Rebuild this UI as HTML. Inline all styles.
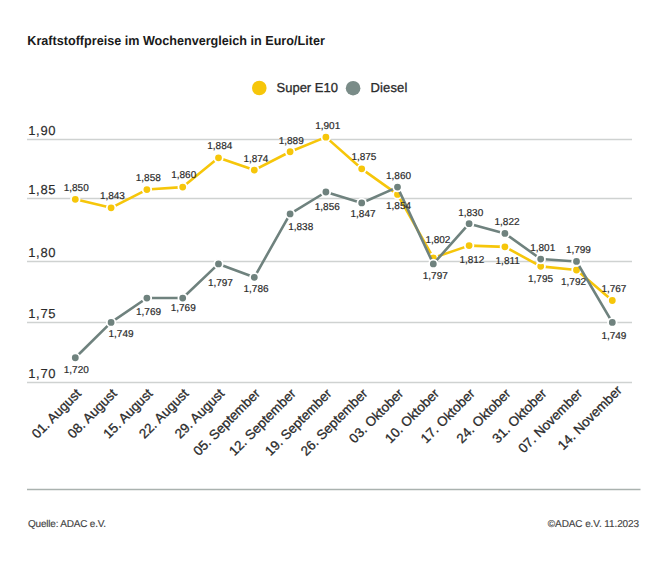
<!DOCTYPE html>
<html><head><meta charset="utf-8"><style>
html,body{margin:0;padding:0;background:#fff;width:668px;height:585px;overflow:hidden;}
svg text{font-family:"Liberation Sans",sans-serif;text-rendering:geometricPrecision;}
</style></head><body>
<svg width="668" height="585" viewBox="0 0 668 585" style="position:absolute;left:0;top:0">
<line x1="27" y1="139.5" x2="632" y2="139.5" stroke="#cfd2d1" stroke-width="1.3"/>
<line x1="27" y1="198.5" x2="632" y2="198.5" stroke="#cfd2d1" stroke-width="1.3"/>
<line x1="27" y1="261.5" x2="632" y2="261.5" stroke="#cfd2d1" stroke-width="1.3"/>
<line x1="27" y1="322.5" x2="632" y2="322.5" stroke="#cfd2d1" stroke-width="1.3"/>
<line x1="27" y1="382.5" x2="632" y2="382.5" stroke="#cfd2d1" stroke-width="1.3"/>
<text x="28.2" y="135.2" font-size="13" letter-spacing="0.7" fill="#2b2b2b" stroke="#2b2b2b" stroke-width="0.15">1,90</text>
<text x="28.2" y="194.2" font-size="13" letter-spacing="0.7" fill="#2b2b2b" stroke="#2b2b2b" stroke-width="0.15">1,85</text>
<text x="28.2" y="257.2" font-size="13" letter-spacing="0.7" fill="#2b2b2b" stroke="#2b2b2b" stroke-width="0.15">1,80</text>
<text x="28.2" y="318.2" font-size="13" letter-spacing="0.7" fill="#2b2b2b" stroke="#2b2b2b" stroke-width="0.15">1,75</text>
<text x="28.2" y="378.2" font-size="13" letter-spacing="0.7" fill="#2b2b2b" stroke="#2b2b2b" stroke-width="0.15">1,70</text>
<polyline points="75.30,199.30 111.10,207.83 146.90,189.55 182.70,187.11 218.50,157.85 254.30,170.04 290.10,151.76 325.90,137.13 361.70,168.83 397.50,194.42 433.30,257.81 469.10,245.62 504.90,246.84 540.70,266.35 576.50,270.00 612.30,300.48" fill="none" stroke="#f6c60a" stroke-width="2.6" stroke-linejoin="round"/>
<circle cx="75.30" cy="199.30" r="4.3" fill="#f6c60a" stroke="#fff" stroke-width="1.8"/>
<circle cx="111.10" cy="207.83" r="4.3" fill="#f6c60a" stroke="#fff" stroke-width="1.8"/>
<circle cx="146.90" cy="189.55" r="4.3" fill="#f6c60a" stroke="#fff" stroke-width="1.8"/>
<circle cx="182.70" cy="187.11" r="4.3" fill="#f6c60a" stroke="#fff" stroke-width="1.8"/>
<circle cx="218.50" cy="157.85" r="4.3" fill="#f6c60a" stroke="#fff" stroke-width="1.8"/>
<circle cx="254.30" cy="170.04" r="4.3" fill="#f6c60a" stroke="#fff" stroke-width="1.8"/>
<circle cx="290.10" cy="151.76" r="4.3" fill="#f6c60a" stroke="#fff" stroke-width="1.8"/>
<circle cx="325.90" cy="137.13" r="4.3" fill="#f6c60a" stroke="#fff" stroke-width="1.8"/>
<circle cx="361.70" cy="168.83" r="4.3" fill="#f6c60a" stroke="#fff" stroke-width="1.8"/>
<circle cx="397.50" cy="194.42" r="4.3" fill="#f6c60a" stroke="#fff" stroke-width="1.8"/>
<circle cx="433.30" cy="257.81" r="4.3" fill="#f6c60a" stroke="#fff" stroke-width="1.8"/>
<circle cx="469.10" cy="245.62" r="4.3" fill="#f6c60a" stroke="#fff" stroke-width="1.8"/>
<circle cx="504.90" cy="246.84" r="4.3" fill="#f6c60a" stroke="#fff" stroke-width="1.8"/>
<circle cx="540.70" cy="266.35" r="4.3" fill="#f6c60a" stroke="#fff" stroke-width="1.8"/>
<circle cx="576.50" cy="270.00" r="4.3" fill="#f6c60a" stroke="#fff" stroke-width="1.8"/>
<circle cx="612.30" cy="300.48" r="4.3" fill="#f6c60a" stroke="#fff" stroke-width="1.8"/>
<polyline points="75.30,357.77 111.10,322.42 146.90,298.04 182.70,298.04 218.50,263.91 254.30,277.32 290.10,213.93 325.90,191.99 361.70,202.96 397.50,187.11 433.30,263.91 469.10,223.68 504.90,233.43 540.70,259.03 576.50,261.47 612.30,322.42" fill="none" stroke="#6f827e" stroke-width="2.6" stroke-linejoin="round"/>
<circle cx="75.30" cy="357.77" r="4.3" fill="#6f827e" stroke="#fff" stroke-width="1.8"/>
<circle cx="111.10" cy="322.42" r="4.3" fill="#6f827e" stroke="#fff" stroke-width="1.8"/>
<circle cx="146.90" cy="298.04" r="4.3" fill="#6f827e" stroke="#fff" stroke-width="1.8"/>
<circle cx="182.70" cy="298.04" r="4.3" fill="#6f827e" stroke="#fff" stroke-width="1.8"/>
<circle cx="218.50" cy="263.91" r="4.3" fill="#6f827e" stroke="#fff" stroke-width="1.8"/>
<circle cx="254.30" cy="277.32" r="4.3" fill="#6f827e" stroke="#fff" stroke-width="1.8"/>
<circle cx="290.10" cy="213.93" r="4.3" fill="#6f827e" stroke="#fff" stroke-width="1.8"/>
<circle cx="325.90" cy="191.99" r="4.3" fill="#6f827e" stroke="#fff" stroke-width="1.8"/>
<circle cx="361.70" cy="202.96" r="4.3" fill="#6f827e" stroke="#fff" stroke-width="1.8"/>
<circle cx="397.50" cy="187.11" r="4.3" fill="#6f827e" stroke="#fff" stroke-width="1.8"/>
<circle cx="433.30" cy="263.91" r="4.3" fill="#6f827e" stroke="#fff" stroke-width="1.8"/>
<circle cx="469.10" cy="223.68" r="4.3" fill="#6f827e" stroke="#fff" stroke-width="1.8"/>
<circle cx="504.90" cy="233.43" r="4.3" fill="#6f827e" stroke="#fff" stroke-width="1.8"/>
<circle cx="540.70" cy="259.03" r="4.3" fill="#6f827e" stroke="#fff" stroke-width="1.8"/>
<circle cx="576.50" cy="261.47" r="4.3" fill="#6f827e" stroke="#fff" stroke-width="1.8"/>
<circle cx="612.30" cy="322.42" r="4.3" fill="#6f827e" stroke="#fff" stroke-width="1.8"/>
<text x="76.20" y="190.90" font-size="10.0" fill="#2b2b2b" stroke="#2b2b2b" stroke-width="0.2" text-anchor="middle">1,850</text>
<text x="112.40" y="199.30" font-size="10.0" fill="#2b2b2b" stroke="#2b2b2b" stroke-width="0.2" text-anchor="middle">1,843</text>
<text x="148.30" y="180.80" font-size="10.0" fill="#2b2b2b" stroke="#2b2b2b" stroke-width="0.2" text-anchor="middle">1,858</text>
<text x="183.70" y="178.20" font-size="10.0" fill="#2b2b2b" stroke="#2b2b2b" stroke-width="0.2" text-anchor="middle">1,860</text>
<text x="219.80" y="149.40" font-size="10.0" fill="#2b2b2b" stroke="#2b2b2b" stroke-width="0.2" text-anchor="middle">1,884</text>
<text x="255.90" y="162.00" font-size="10.0" fill="#2b2b2b" stroke="#2b2b2b" stroke-width="0.2" text-anchor="middle">1,874</text>
<text x="291.20" y="143.80" font-size="10.0" fill="#2b2b2b" stroke="#2b2b2b" stroke-width="0.2" text-anchor="middle">1,889</text>
<text x="327.70" y="128.50" font-size="10.0" fill="#2b2b2b" stroke="#2b2b2b" stroke-width="0.2" text-anchor="middle">1,901</text>
<text x="363.90" y="160.30" font-size="10.0" fill="#2b2b2b" stroke="#2b2b2b" stroke-width="0.2" text-anchor="middle">1,875</text>
<text x="398.50" y="209.00" font-size="10.0" fill="#2b2b2b" stroke="#2b2b2b" stroke-width="0.2" text-anchor="middle">1,854</text>
<text x="437.90" y="242.90" font-size="10.0" fill="#2b2b2b" stroke="#2b2b2b" stroke-width="0.2" text-anchor="middle">1,802</text>
<text x="471.90" y="262.50" font-size="10.0" fill="#2b2b2b" stroke="#2b2b2b" stroke-width="0.2" text-anchor="middle">1,812</text>
<text x="507.70" y="263.50" font-size="10.0" fill="#2b2b2b" stroke="#2b2b2b" stroke-width="0.2" text-anchor="middle">1,811</text>
<text x="540.50" y="281.70" font-size="10.0" fill="#2b2b2b" stroke="#2b2b2b" stroke-width="0.2" text-anchor="middle">1,795</text>
<text x="573.50" y="285.30" font-size="10.0" fill="#2b2b2b" stroke="#2b2b2b" stroke-width="0.2" text-anchor="middle">1,792</text>
<text x="613.90" y="291.70" font-size="10.0" fill="#2b2b2b" stroke="#2b2b2b" stroke-width="0.2" text-anchor="middle">1,767</text>
<text x="76.30" y="372.60" font-size="10.0" fill="#2b2b2b" stroke="#2b2b2b" stroke-width="0.2" text-anchor="middle">1,720</text>
<text x="121.00" y="336.50" font-size="10.0" fill="#2b2b2b" stroke="#2b2b2b" stroke-width="0.2" text-anchor="middle">1,749</text>
<text x="148.50" y="314.60" font-size="10.0" fill="#2b2b2b" stroke="#2b2b2b" stroke-width="0.2" text-anchor="middle">1,769</text>
<text x="183.20" y="311.30" font-size="10.0" fill="#2b2b2b" stroke="#2b2b2b" stroke-width="0.2" text-anchor="middle">1,769</text>
<text x="220.40" y="286.40" font-size="10.0" fill="#2b2b2b" stroke="#2b2b2b" stroke-width="0.2" text-anchor="middle">1,797</text>
<text x="256.00" y="291.50" font-size="10.0" fill="#2b2b2b" stroke="#2b2b2b" stroke-width="0.2" text-anchor="middle">1,786</text>
<text x="300.70" y="229.60" font-size="10.0" fill="#2b2b2b" stroke="#2b2b2b" stroke-width="0.2" text-anchor="middle">1,838</text>
<text x="327.30" y="209.50" font-size="10.0" fill="#2b2b2b" stroke="#2b2b2b" stroke-width="0.2" text-anchor="middle">1,856</text>
<text x="363.00" y="217.30" font-size="10.0" fill="#2b2b2b" stroke="#2b2b2b" stroke-width="0.2" text-anchor="middle">1,847</text>
<text x="398.50" y="178.50" font-size="10.0" fill="#2b2b2b" stroke="#2b2b2b" stroke-width="0.2" text-anchor="middle">1,860</text>
<text x="435.30" y="279.30" font-size="10.0" fill="#2b2b2b" stroke="#2b2b2b" stroke-width="0.2" text-anchor="middle">1,797</text>
<text x="470.70" y="215.60" font-size="10.0" fill="#2b2b2b" stroke="#2b2b2b" stroke-width="0.2" text-anchor="middle">1,830</text>
<text x="507.00" y="224.80" font-size="10.0" fill="#2b2b2b" stroke="#2b2b2b" stroke-width="0.2" text-anchor="middle">1,822</text>
<text x="542.70" y="250.80" font-size="10.0" fill="#2b2b2b" stroke="#2b2b2b" stroke-width="0.2" text-anchor="middle">1,801</text>
<text x="578.40" y="252.60" font-size="10.0" fill="#2b2b2b" stroke="#2b2b2b" stroke-width="0.2" text-anchor="middle">1,799</text>
<text x="613.90" y="338.90" font-size="10.0" fill="#2b2b2b" stroke="#2b2b2b" stroke-width="0.2" text-anchor="middle">1,749</text>
<text transform="translate(81.90,394.40000000000003) rotate(-45)" font-size="13.4" fill="#2b2b2b" stroke="#2b2b2b" stroke-width="0.3" text-anchor="end">01. August</text>
<text transform="translate(117.70,394.40000000000003) rotate(-45)" font-size="13.4" fill="#2b2b2b" stroke="#2b2b2b" stroke-width="0.3" text-anchor="end">08. August</text>
<text transform="translate(153.50,394.40000000000003) rotate(-45)" font-size="13.4" fill="#2b2b2b" stroke="#2b2b2b" stroke-width="0.3" text-anchor="end">15. August</text>
<text transform="translate(189.30,394.40000000000003) rotate(-45)" font-size="13.4" fill="#2b2b2b" stroke="#2b2b2b" stroke-width="0.3" text-anchor="end">22. August</text>
<text transform="translate(225.10,394.40000000000003) rotate(-45)" font-size="13.4" fill="#2b2b2b" stroke="#2b2b2b" stroke-width="0.3" text-anchor="end">29. August</text>
<text transform="translate(260.90,394.40000000000003) rotate(-45)" font-size="13.4" fill="#2b2b2b" stroke="#2b2b2b" stroke-width="0.3" text-anchor="end">05. September</text>
<text transform="translate(296.70,394.40000000000003) rotate(-45)" font-size="13.4" fill="#2b2b2b" stroke="#2b2b2b" stroke-width="0.3" text-anchor="end">12. September</text>
<text transform="translate(332.50,394.40000000000003) rotate(-45)" font-size="13.4" fill="#2b2b2b" stroke="#2b2b2b" stroke-width="0.3" text-anchor="end">19. September</text>
<text transform="translate(368.30,394.40000000000003) rotate(-45)" font-size="13.4" fill="#2b2b2b" stroke="#2b2b2b" stroke-width="0.3" text-anchor="end">26. September</text>
<text transform="translate(404.10,394.40000000000003) rotate(-45)" font-size="13.4" fill="#2b2b2b" stroke="#2b2b2b" stroke-width="0.3" text-anchor="end">03. Oktober</text>
<text transform="translate(439.90,394.40000000000003) rotate(-45)" font-size="13.4" fill="#2b2b2b" stroke="#2b2b2b" stroke-width="0.3" text-anchor="end">10. Oktober</text>
<text transform="translate(475.70,394.40000000000003) rotate(-45)" font-size="13.4" fill="#2b2b2b" stroke="#2b2b2b" stroke-width="0.3" text-anchor="end">17. Oktober</text>
<text transform="translate(511.50,394.40000000000003) rotate(-45)" font-size="13.4" fill="#2b2b2b" stroke="#2b2b2b" stroke-width="0.3" text-anchor="end">24. Oktober</text>
<text transform="translate(547.30,394.40000000000003) rotate(-45)" font-size="13.4" fill="#2b2b2b" stroke="#2b2b2b" stroke-width="0.3" text-anchor="end">31. Oktober</text>
<text transform="translate(583.10,394.40000000000003) rotate(-45)" font-size="13.4" fill="#2b2b2b" stroke="#2b2b2b" stroke-width="0.3" text-anchor="end">07. November</text>
<text transform="translate(622.70,391.20000000000005) rotate(-45)" font-size="13.4" fill="#2b2b2b" stroke="#2b2b2b" stroke-width="0.3" text-anchor="end">14. November</text>
<circle cx="259.3" cy="88" r="7.3" fill="#f6c60a"/>
<text x="276.5" y="92.0" font-size="13" fill="#2b2b2b" stroke="#2b2b2b" stroke-width="0.3">Super E10</text>
<circle cx="353.1" cy="88.2" r="7.3" fill="#7a8c88"/>
<text x="370.6" y="92.0" font-size="13" letter-spacing="0.12" fill="#2b2b2b" stroke="#2b2b2b" stroke-width="0.3">Diesel</text>
<text x="27.3" y="45.3" font-size="13" font-weight="bold" fill="#1a1a1a" textLength="297.5" lengthAdjust="spacingAndGlyphs">Kraftstoffpreise im Wochenvergleich in Euro/Liter</text>
<line x1="27" y1="489.5" x2="640.5" y2="489.5" stroke="#aab2af" stroke-width="1.6"/>
<text x="28" y="527" font-size="10" letter-spacing="-0.2" fill="#444" stroke="#444" stroke-width="0.15">Quelle: ADAC e.V.</text>
<text x="639" y="527" font-size="10" letter-spacing="-0.1" fill="#444" stroke="#444" stroke-width="0.15" text-anchor="end">©ADAC e.V. 11.2023</text>
</svg>
</body></html>
